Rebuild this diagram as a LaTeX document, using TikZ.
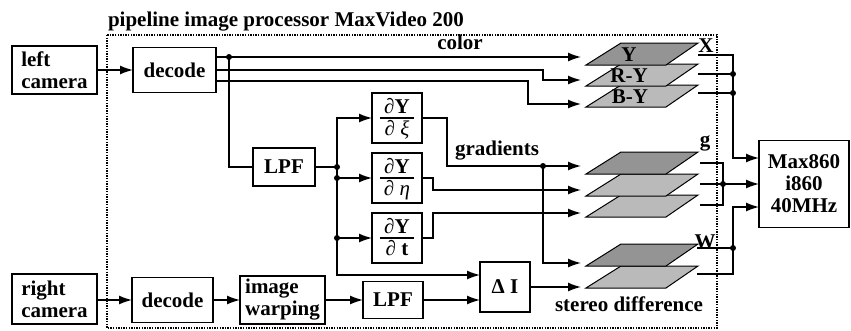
\documentclass[tikz,border=0pt]{standalone}
\usepackage{fontspec}
\setmainfont{Liberation Serif}
\usetikzlibrary{arrows.meta}
\begin{document}
\begin{tikzpicture}[x=1pt,y=-1pt,
  every node/.style={font=\fontsize{21}{22}\selectfont\bfseries, inner sep=0pt, outer sep=0pt},
  blk/.style={draw, line width=1.6pt},
  ln/.style={line width=1.4pt},
  arr/.style={ln, -{Latex[length=13pt,width=9pt]}},
  jdot/.style={circle, fill, minimum size=6pt, inner sep=0pt},
  dkpl/.style={fill=black!42, draw, line width=1pt},
  ltpl/.style={fill=black!27, draw, line width=1pt},
  frule/.style={line width=2pt},
  border/.style={line width=2.3pt, dash pattern=on 1.4pt off 1.2pt},
]
\useasboundingbox (0,0) rectangle (851,330);

% title and border
\node[anchor=base west] (title) at (108,26) {pipeline image processor MaxVideo 200};
\draw[border] (107,35) rectangle (717,328);

% blocks
\node[blk, minimum width=85pt, minimum height=48pt, align=left] (lcam) at (54.5,70) {left\\camera};
\node[blk, minimum width=83pt, minimum height=45pt] (dec1) at (174.5,70) {decode};
\node[blk, minimum width=62pt, minimum height=38pt] (lpf1) at (284,167) {LPF};
\node[blk, minimum width=50pt, minimum height=50pt] (dxi) at (397,118) {};
\node[blk, minimum width=50pt, minimum height=50pt] (deta) at (397,178) {};
\node[blk, minimum width=50pt, minimum height=50pt] (dt) at (397,238) {};
\node[blk, minimum width=50pt, minimum height=50pt] (dI) at (505,287) {Δ I};
\node[blk, minimum width=85pt, minimum height=50pt, align=left] (rcam) at (54.5,299) {right\\camera};
\node[blk, minimum width=81pt, minimum height=45pt] (dec2) at (172.5,300) {decode};
\node[blk, minimum width=85pt, minimum height=48pt, align=left] (warp) at (282.5,300) {image\\warping};
\node[blk, minimum width=60pt, minimum height=37pt] (lpf2) at (393,300) {LPF};
\node[blk, minimum width=90pt, minimum height=87pt, align=center] (max) at (804,184) {Max860\\i860\\40MHz};

% fractions
\node[anchor=base] (dxiN) at (397,113) {∂Y};
\node[anchor=base] (dxiD) at (397,135) {∂ {\mdseries\itshape ξ}};
\draw[frule] ([xshift=-17pt]dxi.center) -- ([xshift=17pt]dxi.center);
\node[anchor=base] (detaN) at (397,173) {∂Y};
\node[anchor=base] (detaD) at (397,195) {∂ {\mdseries\itshape η}};
\draw[frule] ([xshift=-17pt]deta.center) -- ([xshift=17pt]deta.center);
\node[anchor=base] (dtN) at (397,233) {∂Y};
\node[anchor=base] (dtD) at (397,255) {∂ t};
\draw[frule] ([xshift=-17pt]dt.center) -- ([xshift=17pt]dt.center);

% labels
\node[anchor=base] (lcolor) at (460,49) {color};
\node[anchor=base] (lgrad) at (497,155) {gradients};
\node[anchor=base] (lstereo) at (629,311) {stereo difference};
\node[anchor=base] (lX) at (706,52) {X};
\node[anchor=base] (lg) at (705,146) {g};
\node[anchor=base] (lW) at (705,248) {W};

% planes
\newcommand\plane[2]{\draw[#2] (621,#1) -- (698,#1) -- (666,#1+22) -- (586,#1+22) -- cycle;}
\plane{85}{ltpl}
\plane{64}{ltpl}
\plane{43}{dkpl}
\node (pY) at (629,55) {Y};
\node (pRY) at (629,76) {R-Y};
\node (pBY) at (630,97) {B-Y};
\plane{195}{ltpl}
\plane{174}{ltpl}
\plane{152}{dkpl}
\plane{266}{ltpl}
\plane{244}{dkpl}

% arrow targets at planes
\coordinate (tY) at (581,57);
\coordinate (tRY) at (581,80);
\coordinate (tBY) at (581,104);
\coordinate (tG1) at (581,166);
\coordinate (tG2) at (581,190);
\coordinate (tG3) at (581,213);
\coordinate (tW1) at (581,263);
\coordinate (tW2) at (581,287);

% left camera
\draw[arr] (lcam.east) -- (dec1.west);
% decode outputs (color)
\draw[arr] (dec1.east |- tY) -- (tY);
\draw[arr] (dec1.east) -- (543,70) -- (543,80) -- (tRY);
\draw[arr] (dec1.east |- 0,81) -- (528,81) -- (528,104) -- (tBY);
\coordinate (j1) at (229,57);
\draw[ln] (j1) |- (lpf1.west);
\node[jdot] (d1) at (j1) {};

% LPF to derivatives
\coordinate (j2) at (337,167);
\draw[ln] (lpf1.east) -- (j2);
\draw[arr] (j2) |- (dxi.west);
\draw[arr] (j2) |- (dI.west |- 0,275);
\draw[arr] (337,178) -- (deta.west);
\draw[arr] (337,238) -- (dt.west);
\node[jdot] (d2) at (j2) {};
\node[jdot] (d3) at (337,178) {};
\node[jdot] (d4) at (337,238) {};

% derivative outputs
\draw[arr] (dxi.east) -- (447,118) -- (447,166) -- (tG1);
\coordinate (j3) at (543,166);
\draw[arr] (j3) |- (tW1);
\node[jdot] (d5) at (j3) {};
\draw[arr] (deta.east) -- (433,178) -- (433,190) -- (tG2);
\draw[arr] (dt.east) -- (433,238) -- (433,213) -- (tG3);

% right camera path
\draw[arr] (rcam.east |- dec2.west) -- (dec2.west);
\draw[arr] (dec2.east) -- (warp.west);
\draw[arr] (warp.east) -- (lpf2.west);
\draw[arr] (lpf2.east) -- (dI.west |- lpf2.east);
\draw[arr] (dI.east) -- (tW2);

% outputs to Max860
\draw[arr] (698,55) -- (733,55) |- (max.west |- 0,158);
\draw[ln] (698,74) -- (733,74);
\draw[ln] (698,93) -- (733,93);
\node[jdot] (d6) at (733,74) {};
\node[jdot] (d7) at (733,93) {};

\draw[ln] (700,163) -- (723,163) -- (723,205) -- (700,205);
\draw[arr] (700,184) -- (max.west);
\node[jdot] (d8) at (723,184) {};

\draw[ln] (697,248) -- (733,248);
\draw[arr] (697,274) -- (733,274) |- (max.west |- 0,207);
\node[jdot] (d9) at (733,248) {};
\end{tikzpicture}
\end{document}
